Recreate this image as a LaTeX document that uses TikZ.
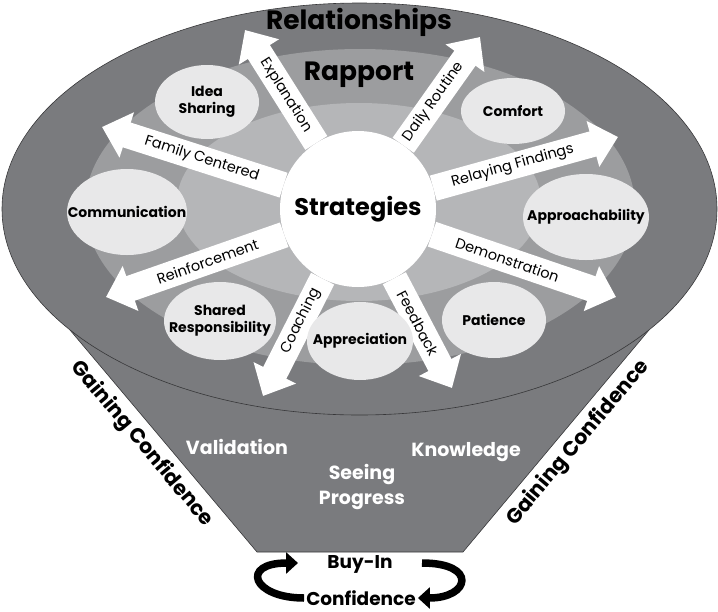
\documentclass[tikz,border=0pt]{standalone}
\usepackage{fontspec}
\setmainfont{Poppins}
\usetikzlibrary{shapes.geometric,arrows.meta}
\definecolor{outergray}{RGB}{122,123,126}
\definecolor{midgray}{RGB}{156,157,159}
\definecolor{lightgray}{RGB}{181,182,184}
\definecolor{bubblegray}{RGB}{232,232,233}
\definecolor{edgegray}{RGB}{55,55,57}

\begin{document}
\begin{tikzpicture}[x=1pt,y=-1pt,
    bubble/.style={ellipse,fill=bubblegray,inner sep=0pt},
    bubtext/.style={align=center,font=\bfseries\fontsize{14}{17}\selectfont},
    way/.style={line width=26pt,white,-{Triangle[length=26pt,width=46pt]}},
    waylabel/.style={sloped,text=black,font=\fontsize{14.5}{15}\selectfont},
    stage/.style={text=white,align=center,font=\bfseries\fontsize{19}{25}\selectfont},
    ringtext/.style={font=\bfseries\fontsize{26.5}{28}\selectfont},
    swirl/.style={line width=7.5pt,-{Triangle[length=12pt,width=21pt]}}]
    \useasboundingbox (0,0) rectangle (718,611);
    \filldraw[fill=outergray,draw=edgegray,line width=0.6pt] (70,330) -- (257,552) -- (463,552) -- (649,330) -- cycle;
    \filldraw[fill=outergray,draw=edgegray,line width=0.6pt] (359.5,209) ellipse [x radius=357.5pt,y radius=206pt];
    \fill[midgray] (360,207) ellipse [x radius=275pt,y radius=158pt];
    \fill[lightgray] (359,202) ellipse [x radius=182pt,y radius=99pt];
    \node[ringtext] (rel) at (359,22) {Relationships};
    \node[ringtext] (rap) at (359,75) {Rapport};
    \node[circle,fill=white,minimum size=156pt,inner sep=0pt,font=\bfseries\fontsize{24}{26}\selectfont] (strat) at (358,209) {Strategies};
    \coordinate (t1) at (245,30);
    \coordinate (t2) at (480,37);
    \coordinate (t3) at (618,137);
    \coordinate (t4) at (616,297);
    \coordinate (t5) at (452,388);
    \coordinate (t6) at (263,396);
    \coordinate (t7) at (106,297);
    \coordinate (t8) at (102,127);
    \draw[way] (strat) -- (t1) node[waylabel,pos=0.42] {Explanation};
    \draw[way] (strat) -- (t2) node[waylabel,pos=0.40] {Daily Routine};
    \draw[way] (strat) -- (t3) node[waylabel,pos=0.43] {Relaying Findings};
    \draw[way] (strat) -- (t4) node[waylabel,pos=0.41] {Demonstration};
    \draw[way] (strat) -- (t5) node[waylabel,pos=0.41] {Feedback};
    \draw[way] (strat) -- (t6) node[waylabel,pos=0.36] {Coaching};
    \draw[way] (strat) -- (t7) node[waylabel,pos=0.43] {Reinforcement};
    \draw[way] (strat) -- (t8) node[waylabel,pos=0.45] {Family Centered};
    \node[bubble,minimum width=104pt,minimum height=74pt,label={[bubtext]center:Idea\\Sharing}] (idea) at (207,102) {};
    \node[bubble,minimum width=104pt,minimum height=66pt,label={[bubtext]center:Comfort}] (comf) at (513,111) {};
    \node[bubble,minimum width=120pt,minimum height=86pt,label={[bubtext]center:Communication}] (comm) at (127,212) {};
    \node[bubble,minimum width=126pt,minimum height=86pt,label={[bubtext]center:Approachability}] (appr) at (586,217) {};
    \node[bubble,minimum width=112pt,minimum height=78pt,label={[bubtext]center:Shared\\Responsibility}] (shar) at (220,321) {};
    \node[bubble,minimum width=106pt,minimum height=78pt,label={[bubtext]center:Appreciation}] (appn) at (360,341) {};
    \node[bubble,minimum width=104pt,minimum height=76pt,label={[bubtext]center:Patience}] (pati) at (494,320) {};
    \node[stage] (valid) at (237,447) {Validation};
    \node[stage] (prog) at (362,487) {Seeing\\Progress};
    \node[stage] (know) at (466,452) {Knowledge};
    \node[rotate=-50,font=\bfseries\fontsize{20.5}{22}\selectfont] (gainl) at (142,444) {Gaining Confidence};
    \node[rotate=50,font=\bfseries\fontsize{20.5}{22}\selectfont] (gainr) at (578,443) {Gaining Confidence};
    \node[font=\bfseries\fontsize{18.5}{20}\selectfont] (buy) at (360,564) {Buy-In};
    \node[font=\bfseries\fontsize{18.5}{20}\selectfont,inner sep=2pt] (conf) at (361,598) {Confidence};
    \coordinate (s1) at (298,563);
    \coordinate (s2) at (422,563);
    \draw[swirl] (conf.west) .. controls +(-52,0) and +(-58,0) .. (s1);
    \draw[swirl] (s2) .. controls +(56,0) and +(52,0) .. (conf.east);
\end{tikzpicture}
\end{document}
